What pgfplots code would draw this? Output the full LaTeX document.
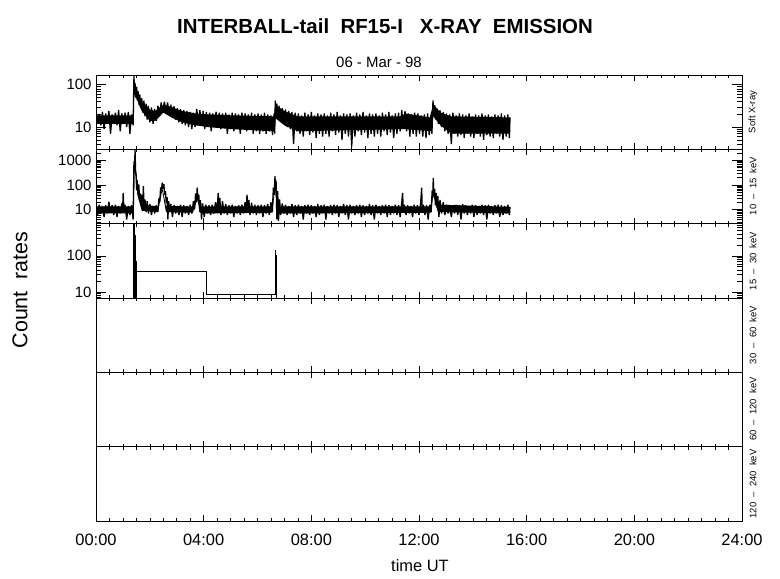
\documentclass[border=0pt]{standalone}
\usepackage{pgfplots}
\pgfplotsset{compat=1.18}
\usepackage{fontspec}
\setmainfont{Liberation Sans}
\begin{document}
\begin{tikzpicture}
\useasboundingbox (0bp,0bp) rectangle (780bp,579bp);
\pgfplotsset{
  panel/.style={
    at={(96bp,#1)}, anchor=south west,
    width=646bp, height=74.33bp, scale only axis,
    xmin=0, xmax=24, xtick={0,4,...,24}, minor x tick num=7,
    xticklabels={},
    tick pos=both, xticklabel pos=lower, yticklabel pos=left,
    major tick length=10bp, minor tick length=5bp,
    xtick style={/pgfplots/major tick length=6bp, /pgfplots/minor tick length=3bp},
    tick style={black, line width=0.6bp},
    axis line style={black, line width=0.8bp},
    yticklabel style={font=\fontsize{15}{15}\selectfont, xshift=-1bp},
  },
}
% Panel 1: Soft X-ray
\begin{axis}[panel={429.67bp}, ymode=log, ymin=3, ymax=170,
  ytick={10,100}, yticklabels={10,100},
  minor ytick={3,4,5,6,7,8,9,20,30,40,50,60,70,80,90}]
% dense core of the noisy signal
\addplot[fill=black, draw=none] coordinates {(0,19)(1.38,19)(1.41,100)(1.5,70)(1.7,40)(2.0,26)(2.2,24)(2.5,34)(2.8,30)(3.2,24)(3.7,21)(4.2,20)(5.0,19)(6.6,18)(6.68,33)(7.0,24)(7.5,18)(11.3,18)(11.5,21)(12.4,17)(12.53,35)(12.8,22)(13.2,18)(15.38,17)
(15.38,7)(13.2,7)(12.8,11)(12.53,18)(12.48,8)(11.5,9)(7.5,8)(7.0,11)(6.68,16)(6.6,8)(5.0,9)(4.2,10)(3.7,11)(3.2,13)(2.8,17)(2.5,22)(2.2,14)(2.0,14)(1.7,24)(1.5,48)(1.42,60)(1.38,12)(0,12)} -- cycle;
\addplot[black, no markers, line width=1.3bp, line join=miter, miter limit=1] coordinates {(0.00,22)(0.06,12)(0.12,20)(0.18,11)(0.24,23)(0.30,9)(0.36,21)(0.42,12)(0.48,24)(0.54,7)(0.60,20)(0.66,12)(0.72,22)(0.78,11)(0.84,25)(0.90,8)(0.96,21)(1.02,12)(1.08,22)(1.14,10)(1.20,23)(1.26,7)(1.32,20)(1.38,11)
(1.41,165)(1.43,60)(1.45,110)(1.48,50)(1.51,90)(1.54,42)(1.57,70)(1.60,33)(1.63,58)(1.66,28)(1.70,48)(1.74,22)(1.78,42)(1.82,18)(1.86,36)(1.90,15)(1.94,32)(2.00,13)(2.06,29)(2.12,12)(2.18,27)(2.24,14)(2.30,32)(2.36,18)(2.42,38)(2.48,22)(2.54,40)(2.60,23)(2.66,38)(2.72,20)(2.78,34)(2.84,17)(2.90,31)(2.96,15)(3.02,28)(3.08,13)(3.14,27)(3.20,12)(3.26,25)(3.32,11)(3.38,24)(3.44,10)(3.50,23)(3.56,9)(3.62,22)(3.68,10)(3.74,27)(3.80,13)(3.86,25)(3.92,11)(3.98,24)(4.04,9)(4.10,23)(4.16,10)(4.22,22)(4.28,8)(4.34,21)(4.40,10)(4.46,23)(4.52,12)(4.58,22)(4.64,9)(4.70,21)(4.76,10)(4.82,22)(4.88,7)(4.94,20)(5.00,9)(5.06,22)(5.12,8)(5.18,21)(5.24,10)(5.30,20)(5.36,7)(5.42,22)(5.48,9)(5.54,21)(5.60,8)(5.66,20)(5.72,9)(5.78,22)(5.84,7)(5.90,20)(5.96,8)(6.02,21)(6.08,7)(6.14,20)(6.20,8)(6.26,22)(6.32,7)(6.38,20)(6.44,8)(6.50,19)(6.56,6.5)(6.62,21)(6.64,7)
(6.66,42)(6.69,18)(6.72,36)(6.76,15)(6.80,32)(6.86,14)(6.92,28)(6.98,12)(7.04,26)(7.10,10)(7.16,24)(7.22,9)(7.28,23)(7.34,4)(7.40,22)(7.46,8)
(7.52,21)(7.58,7)(7.64,19)(7.70,6)(7.76,22)(7.82,8)(7.88,20)(7.94,6.5)(8.00,23)(8.06,7.5)(8.12,19)(8.18,5.5)(8.24,21)(8.30,7)(8.36,20)(8.42,6)(8.48,21)(8.54,7)(8.60,19)(8.66,6)(8.72,22)(8.78,8)(8.84,20)(8.90,6.5)(8.96,23)(9.02,7.5)(9.08,19)(9.14,5)(9.20,21)(9.26,7)(9.32,20)(9.38,6)(9.44,21)(9.50,3.5)(9.56,19)(9.62,6)(9.68,22)(9.74,8)(9.80,20)(9.86,6.5)(9.92,23)(9.98,7.5)(10.04,19)(10.10,5.5)(10.16,21)(10.22,7)(10.28,20)(10.34,6)(10.40,21)(10.46,7)(10.52,19)(10.58,6)(10.64,22)(10.70,8)(10.76,20)(10.82,6.5)(10.88,23)(10.94,7.5)(11.00,19)(11.06,5.5)(11.12,21)(11.18,7)(11.24,22)(11.30,8)(11.36,25)(11.42,9)(11.48,24)(11.54,8)(11.60,21)(11.66,6)(11.72,20)(11.78,7)(11.84,22)(11.90,6)(11.96,21)(12.02,7)(12.08,19)(12.14,6)(12.20,20)(12.26,5.5)(12.32,21)(12.38,6.5)(12.44,19)(12.48,7)
(12.52,43)(12.55,20)(12.58,33)(12.62,15)(12.66,28)(12.72,12)(12.78,25)(12.84,10)(12.90,23)(12.96,8)(13.02,21)(13.08,7)(13.14,20)(13.20,4)(13.26,22)(13.32,7)(13.38,19)(13.44,6)(13.50,21)(13.56,6.5)(13.62,20)(13.68,5.5)(13.74,19)(13.80,7)(13.86,21)(13.92,6)(13.98,18)(14.04,5.5)(14.10,20)(14.16,7)(14.22,19)(14.28,6)(14.34,21)(14.40,5)(14.46,19)(14.52,6.5)(14.58,20)(14.64,6)(14.70,18)(14.76,5.5)(14.82,20)(14.88,7)(14.94,19)(15.00,6)(15.06,21)(15.12,5)(15.18,19)(15.24,6)(15.30,20)(15.36,5.5)(15.38,17)};
\end{axis}
% Panel 2: 10-15 keV
\begin{axis}[panel={355.33bp}, ymode=log, ymin=2.7, ymax=2800,
  ytick={10,100,1000}, yticklabels={10,100,1000},
  minor ytick={3,4,5,6,7,8,9,20,30,40,50,60,70,80,90,200,300,400,500,600,700,800,900,2000}]
\addplot[fill=black, draw=none] coordinates {(0,13.5)(1.38,13.5)(1.45,600)(1.55,60)(1.7,16)(2.3,13.5)(2.46,80)(2.6,14)(3.6,13.5)(3.76,40)(3.9,13.5)(6.55,13.5)(6.65,120)(6.75,13.5)(12.45,13.5)(12.53,90)(12.7,16)(15.38,13)
(15.38,7)(12.7,8)(12.53,40)(12.45,7.5)(6.75,7)(6.65,70)(6.55,7.5)(3.9,7)(3.76,25)(3.6,7.5)(2.6,8)(2.46,60)(2.3,8)(1.7,9)(1.55,35)(1.45,350)(1.38,7)(0,7)} -- cycle;
\addplot[black, no markers, line width=1.3bp, line join=miter, miter limit=1] coordinates {(0.00,15)(0.06,6)(0.12,16)(0.18,7)(0.24,14)(0.30,5)(0.36,15)(0.42,7)(0.48,21)(0.54,8)(0.60,15)(0.66,6)(0.72,16)(0.78,5)(0.84,14)(0.90,7)(0.96,18)(0.99,10)(1.01,48)(1.04,8)(1.08,16)(1.14,4)(1.20,14)(1.26,6)(1.32,15)(1.38,4)
(1.41,900)(1.43,300)(1.45,2800)(1.47,400)(1.49,270)(1.51,60)(1.53,160)(1.56,40)(1.59,105)(1.62,25)(1.65,45)(1.68,14)(1.71,41)(1.74,10)(1.76,89)(1.79,9)(1.82,26)(1.86,8)(1.90,22)(1.95,7)(2.00,17)(2.06,6)(2.12,14)(2.18,7)(2.24,15)(2.30,8)(2.34,30)(2.37,20)(2.40,80)(2.43,60)(2.46,123)(2.49,70)(2.52,110)(2.55,40)(2.58,56)(2.61,18)(2.64,33)(2.67,4)(2.70,22)(2.74,8)(2.78,17)(2.84,5)(2.90,15)(2.96,7)(3.02,14)(3.08,6)(3.14,16)(3.20,5)(3.26,15)(3.32,7)(3.38,14)(3.44,6)(3.50,16)(3.56,7)(3.62,22)(3.66,10)(3.70,45)(3.73,20)(3.76,78)(3.79,25)(3.82,40)(3.85,8)(3.88,24)(3.92,4)(3.96,18)(4.02,5)(4.08,16)(4.14,7)(4.20,15)(4.26,6)(4.32,16)(4.38,7)(4.44,20)(4.50,9)(4.54,48)(4.57,10)(4.60,30)(4.64,6)(4.70,22)(4.76,7)(4.82,17)(4.88,6)(4.94,15)(5.00,7)(5.06,16)(5.12,5)(5.18,14)(5.24,7)(5.30,15)(5.36,6)(5.42,16)(5.48,7)(5.54,20)(5.58,8)(5.61,41)(5.64,9)(5.68,25)(5.72,6)(5.78,19)(5.84,7)(5.90,16)(5.96,6)(6.02,15)(6.08,7)(6.14,16)(6.20,5)(6.26,15)(6.32,7)(6.38,17)(6.44,6)(6.50,20)(6.55,8)(6.59,78)(6.62,40)(6.65,230)(6.67,60)(6.69,150)(6.72,4)(6.75,56)(6.78,3.5)(6.82,26)(6.86,6)(6.92,18)
(6.98,7)(7.04,16)(7.10,6)(7.16,14)(7.22,7)(7.28,17)(7.34,5)(7.40,15)(7.46,6)(7.52,16)(7.58,7)(7.64,14)(7.70,4)(7.76,15)(7.82,7)(7.88,16)(7.94,6)(8.00,15)(8.06,7)(8.12,14)(8.18,5)(8.24,17)(8.30,6)(8.36,15)(8.42,7)(8.48,16)(8.54,4)(8.60,14)(8.66,7)(8.72,15)(8.78,6)(8.84,16)(8.90,7)(8.96,15)(9.02,5)(9.08,14)(9.14,7)(9.20,17)(9.26,6)(9.32,15)(9.38,4)(9.44,16)(9.50,7)(9.56,14)(9.62,6)(9.68,15)(9.74,7)(9.80,16)(9.86,5)(9.92,15)(9.98,6)(10.04,14)(10.10,7)(10.16,17)(10.22,6)(10.28,15)(10.34,4)(10.40,16)(10.46,7)(10.52,14)(10.58,6)(10.64,15)(10.70,7)(10.76,16)(10.82,5)(10.88,15)(10.94,6)(11.00,14)(11.06,7)(11.12,16)(11.18,6)(11.24,15)(11.30,5)(11.36,20)(11.39,48)(11.42,8)(11.46,16)(11.52,6)(11.58,15)(11.64,7)(11.70,14)(11.76,5)(11.82,16)(11.88,7)(11.94,15)(12.00,6)(12.06,18)(12.10,78)(12.12,9)(12.16,16)(12.22,6)(12.28,15)(12.34,4)(12.40,16)(12.45,8)(12.49,60)(12.51,30)(12.53,195)(12.55,40)(12.58,70)(12.61,15)(12.64,48)(12.67,12)(12.70,35)(12.74,5)(12.78,25)(12.84,7)(12.90,20)(12.96,6)(13.02,16)(13.08,7)(13.14,15)(13.20,5)(13.26,14)(13.32,7)(13.38,16)(13.44,6)(13.50,15)(13.56,4)(13.62,17)(13.68,7)(13.74,15)(13.80,6)(13.86,14)(13.92,7)(13.98,16)(14.04,5)(14.10,15)(14.16,6)(14.22,14)(14.28,7)(14.34,16)(14.40,6)(14.46,15)(14.52,4)(14.58,16)(14.64,7)(14.70,14)(14.76,6)(14.82,15)(14.88,7)(14.94,16)(15.00,5)(15.06,15)(15.12,6)(15.18,14)(15.24,7)(15.30,16)(15.36,6)(15.38,13)};
\end{axis}
% Panel 3: 15-30 keV
\begin{axis}[panel={281bp}, ymode=log, ymin=6.8, ymax=775,
  ytick={10,100}, yticklabels={10,100},
  minor ytick={7,8,9,20,30,40,50,60,70,80,90,200,300,400,500,600,700}]
\addplot[black, no markers, const plot, line width=0.9bp] coordinates {(0,1)(1.40,800)(1.42,1)(1.43,360)(1.45,1)(1.46,140)(1.48,1)(1.49,68)(1.51,38)(4.09,8.3)(6.655,138)(6.685,100)(6.715,1)(24,1)};
\end{axis}
% Panels 4-6: empty
\begin{axis}[panel={206.67bp}, ymin=0, ymax=1, ytick=\empty]
\end{axis}
\begin{axis}[panel={132.33bp}, ymin=0, ymax=1, ytick=\empty]
\end{axis}
\begin{axis}[panel={58bp}, ymin=0, ymax=1, ytick=\empty,
  xticklabels={00:00,04:00,08:00,12:00,16:00,20:00,24:00},
  xticklabel style={font=\fontsize{16.5}{16.5}\selectfont, yshift=-10bp}]
\end{axis}
% Texts
\node[font=\bfseries\fontsize{20.5}{20.5}\selectfont] at (385bp,553bp) {INTERBALL-tail\ \ RF15-I\ \ \ X-RAY\ \ EMISSION};
\node[font=\fontsize{15}{15}\selectfont] at (379bp,517bp) {06 - Mar - 98};
\node[font=\fontsize{21.5}{21.5}\selectfont, rotate=90] at (20bp,289bp) {Count\ \ rates};
\node[font=\fontsize{16.5}{16.5}\selectfont] at (420bp,13bp) {time UT};
\begin{scope}[every node/.style={font=\fontsize{9.5}{9.5}\selectfont, rotate=90}]
\node at (753bp,467bp) {Soft X-ray};
\node at (753bp,393bp) {10\ \ --\ \ 15\ \ keV};
\node at (753bp,318bp) {15\ \ --\ \ 30\ \ keV};
\node at (753bp,244bp) {30\ \ --\ \ 60\ \ keV};
\node at (753bp,170bp) {60\ \ --\ \ 120\ \ keV};
\node at (753bp,95bp) {120\ \ --\ \ 240\ \ keV};
\end{scope}
\end{tikzpicture}
\end{document}
